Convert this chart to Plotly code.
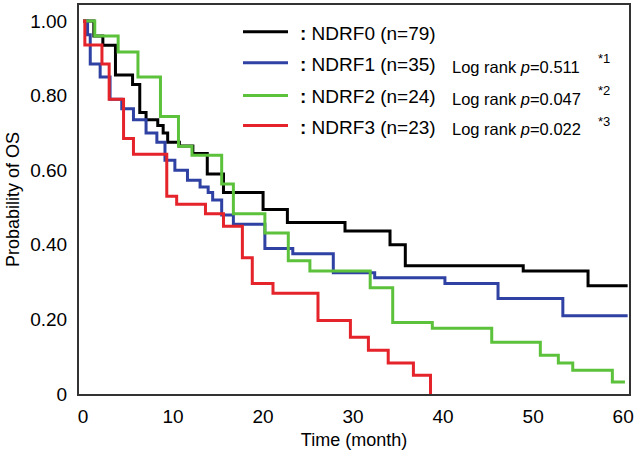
import plotly.graph_objects as go

# Kaplan-Meier curves (month, probability of OS)
ndrf0_t = [0, 1.2, 2.2, 3.6, 5.5, 6.3, 7.0, 8.3, 8.9, 9.4, 10.7, 12.2, 13.8, 15.6,
           20.0, 22.7, 29.1, 34.1, 35.8, 48.9, 56.1, 60.5]
ndrf0_s = [1.0, 0.96, 0.935, 0.855, 0.83, 0.755, 0.735, 0.72, 0.70, 0.675, 0.665, 0.645, 0.59, 0.54,
           0.495, 0.46, 0.437, 0.40, 0.344, 0.33, 0.29, 0.29]

ndrf1_t = [0, 0.5, 0.8, 1.9, 3.0, 4.3, 5.6, 7.0, 8.2, 9.1, 10.2, 11.6, 13.0, 13.9, 14.4,
           15.4, 16.7, 20.2, 23.3, 27.8, 32.4, 40.2, 46.1, 53.3, 60.5]
ndrf1_s = [1.0, 0.963, 0.885, 0.85, 0.79, 0.765, 0.735, 0.70, 0.675, 0.627, 0.60, 0.573, 0.555, 0.54, 0.52,
           0.48, 0.455, 0.39, 0.376, 0.325, 0.312, 0.296, 0.256, 0.21, 0.21]

ndrf2_t = [0, 1.3, 3.9, 6.1, 8.6, 10.6, 12.1, 15.4, 16.7, 20.2, 22.8, 25.2, 31.9, 34.4,
           38.8, 45.4, 50.8, 52.8, 54.4, 58.8, 60.2]
ndrf2_s = [1.0, 0.96, 0.917, 0.85, 0.744, 0.664, 0.64, 0.563, 0.483, 0.432, 0.357, 0.33, 0.285, 0.192,
           0.176, 0.139, 0.104, 0.083, 0.064, 0.032, 0.032]

ndrf3_t = [0, 0.2, 2.1, 2.9, 4.5, 5.6, 9.3, 10.4, 13.6, 15.6, 17.7, 18.8, 21.1, 26.1,
           29.7, 31.7, 33.9, 36.7, 38.6]
ndrf3_s = [1.0, 0.936, 0.885, 0.79, 0.685, 0.643, 0.53, 0.509, 0.483, 0.45, 0.365, 0.296, 0.27, 0.197,
           0.152, 0.117, 0.083, 0.05, 0.0]

groups = ['NDRF0 (n=79)', 'NDRF1 (n=35)', 'NDRF2 (n=24)', 'NDRF3 (n=23)']
pvalues = [None, '0.511', '0.047', '0.022']
x_ticks = [0, 10, 20, 30, 40, 50, 60]
y_ticks = [0, 0.2, 0.4, 0.6, 0.8, 1.0]
y_ticklabels = ['0', '0.20', '0.40', '0.60', '0.80', '1.00']

colors = ['#000000', '#2f42a3', '#5cc23c', '#e5232a']
font = 'Liberation Sans, Arial, sans-serif'

# plot area in pixels (for placing the hand-drawn legend)
W, H = 639, 455
L, R, T, B = 79, 629, 3, 394


def px_x(px):
    return (px - L) / (R - L)


def px_y(py):
    return (B - py) / (B - T)


fig = go.Figure()
series = [(ndrf0_t, ndrf0_s), (ndrf1_t, ndrf1_s), (ndrf2_t, ndrf2_s), (ndrf3_t, ndrf3_s)]
for (t, s), name, c in zip(series, groups, colors):
    fig.add_trace(go.Scatter(x=t, y=s, mode='lines', name=name,
                             line=dict(color=c, width=3, shape='hv'),
                             showlegend=False))

# legend drawn by hand: short line, ": NAME", log rank p
line_y = [30, 61, 94, 124]
text_y = [32, 63, 95, 126]
for i, name in enumerate(groups):
    fig.add_shape(type='line', xref='paper', yref='paper',
                  x0=px_x(243), x1=px_x(288), y0=px_y(line_y[i]), y1=px_y(line_y[i]),
                  line=dict(color=colors[i], width=3))
    fig.add_annotation(xref='paper', yref='paper', x=px_x(298), y=px_y(text_y[i]),
                       xanchor='left', yanchor='middle', showarrow=False,
                       text='<b>:</b> ' + name, font=dict(size=19, color='black'))
    if pvalues[i]:
        fig.add_annotation(xref='paper', yref='paper', x=px_x(450), y=px_y(text_y[i] + 2),
                           xanchor='left', yanchor='middle', showarrow=False,
                           text='Log rank <i>p</i>=' + pvalues[i],
                           font=dict(size=16.5, color='black'))
        fig.add_annotation(xref='paper', yref='paper', x=px_x(596), y=px_y(text_y[i] - 6),
                           xanchor='left', yanchor='middle', showarrow=False,
                           text='*' + str(i), font=dict(size=13, color='black'))

fig.update_layout(
    width=W, height=H,
    margin=dict(l=L, r=W - R, t=T, b=H - B),
    paper_bgcolor='white', plot_bgcolor='white',
    font=dict(family=font, size=18, color='black'),
    xaxis=dict(range=[-0.45, 60.65], tickvals=x_ticks, ticks='', showgrid=False,
               zeroline=False, showline=True, linecolor='#333333', linewidth=2, mirror=True,
               tickfont=dict(size=19), ticklabelstandoff=4,
               title=dict(text='Time (month)', font=dict(size=18), standoff=8)),
    yaxis=dict(range=[0, 1.043], tickvals=y_ticks, ticktext=y_ticklabels, ticks='',
               showgrid=False, zeroline=False, showline=True, linecolor='#333333',
               linewidth=2, mirror=True, tickfont=dict(size=19), ticklabelstandoff=6,
               title=dict(text='Probability of OS', font=dict(size=18), standoff=6)),
)

# page has an 8px body margin by default; drop it so the figure fills the window
fig.write_html('out.html', config={'displayModeBar': False},
               post_script="document.body.style.margin='0px';")
